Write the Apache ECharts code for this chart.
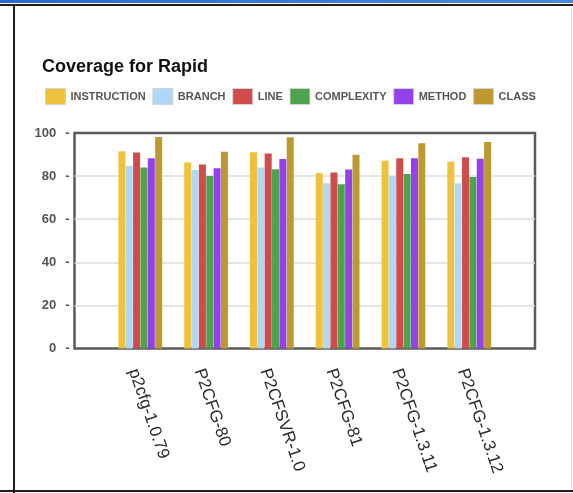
<!DOCTYPE html>
<html>
<head>
<meta charset="utf-8">
<script src="https://cdn.jsdelivr.net/npm/echarts@6/dist/echarts.min.js"></script>
<style>
  html, body { margin: 0; padding: 0; background: #fff; }
  #wrap { position: relative; width: 573px; height: 493px; overflow: hidden; }
  #chart { position: absolute; left: 0; top: 0; width: 573px; height: 493px; }
  .topbar { position: absolute; left: 0; top: 0; width: 573px; height: 3px; background: linear-gradient(to right, #2a68cf, #4a88d9); }
  .topline { position: absolute; left: 0; top: 4px; width: 573px; height: 2px; background: #1e1e1e; }
  .leftline { position: absolute; left: 13px; top: 4px; width: 2px; height: 489px; background: #1e1e1e; }
  .bottomline { position: absolute; left: 0; top: 490px; width: 573px; height: 2px; background: #1e1e1e; }
  .rightline { position: absolute; left: 571px; top: 6px; width: 1px; height: 484px; background: #e6e6e6; }
</style>
</head>
<body>
<div id="wrap">
  <div id="chart"></div>
  <div class="topbar"></div>
  <div class="topline"></div>
  <div class="leftline"></div>
  <div class="bottomline"></div>
  <div class="rightline"></div>
</div>
<script>
// ---- data ----
const titleText = 'Coverage for Rapid';
const categories = ['p2cfg-1.0.79', 'P2CFG-80', 'P2CFSVR-1.0', 'P2CFG-81', 'P2CFG-1.3.11', 'P2CFG-1.3.12'];
const seriesNames = ['INSTRUCTION', 'BRANCH', 'LINE', 'COMPLEXITY', 'METHOD', 'CLASS'];
const instruction = [91.5, 86.3, 91.1, 81.4, 87.1, 86.8];
const branch      = [84.8, 82.8, 84.0, 76.7, 80.1, 76.7];
const line        = [91.0, 85.4, 90.5, 81.7, 88.3, 88.7];
const complexity  = [84.0, 80.1, 83.2, 76.2, 81.0, 79.6];
const method      = [88.3, 83.7, 87.9, 83.1, 88.3, 88.0];
const klass       = [98.1, 91.3, 98.0, 89.9, 95.3, 95.8];
const yTicks = [0, 20, 40, 60, 80, 100];

// ---- styles ----
const colors = ['#EFC23E', '#B0D7F6', '#D04B4B', '#4CA34B', '#9341EB', '#BD9932'];
const allValues = [instruction, branch, line, complexity, method, klass];
const FONT = 'Liberation Sans, Arial, sans-serif';

// pad with empty slots at both ends to reproduce the spacing
const axisCats = [''].concat(categories, ['']);
const pad = arr => [null].concat(arr, [null]);

const chart = echarts.init(document.getElementById('chart'), null, { renderer: 'canvas' });

const series = seriesNames.map((name, i) => ({
  name: name,
  type: 'bar',
  data: pad(allValues[i]),
  barWidth: 7,
  barGap: '5%',
  itemStyle: { color: colors[i] },
  emphasis: { disabled: true },
  animation: false
}));

chart.setOption({
  animation: false,
  title: {
    text: titleText,
    left: 42,
    top: 58,
    padding: 0,
    textStyle: { fontFamily: FONT, fontSize: 18, fontWeight: 'bold', color: '#111' }
  },
  legend: {
    data: seriesNames,
    left: 45,
    top: 88,
    icon: 'rect',
    itemWidth: 20,
    itemHeight: 16,
    itemGap: 6.7,
    padding: 0,
    itemStyle: { borderColor: '#d4d4d4', borderWidth: 1 },
    textStyle: { fontFamily: FONT, fontSize: 11, fontWeight: 'bold', color: '#555' },
    selectedMode: false
  },
  color: colors,
  grid: {
    left: 74.5,
    right: 573 - 535,
    top: 133,
    bottom: 493 - 348.5,
    show: true,
    borderColor: '#5a5a5a',
    borderWidth: 2.5,
    backgroundColor: 'transparent',
    containLabel: false
  },
  xAxis: {
    type: 'category',
    data: axisCats,
    boundaryGap: false,
    axisLine: { show: false },
    axisTick: { show: false },
    splitLine: { show: false },
    axisLabel: {
      interval: 0,
      rotate: -71,
      margin: 15,
      align: 'left',
      verticalAlign: 'top',
      padding: [0, 0, 0, 3],
      fontFamily: FONT,
      fontSize: 17,
      color: '#2a2a2a'
    }
  },
  yAxis: {
    type: 'value',
    min: yTicks[0],
    max: yTicks[yTicks.length - 1],
    interval: yTicks[1] - yTicks[0],
    axisLine: { show: false },
    axisTick: { show: false },
    splitLine: { show: true, showMinLine: false, showMaxLine: false, lineStyle: { color: '#dcdcdc', width: 1.5 } },
    axisLabel: {
      margin: 5,
      formatter: v => '{v|' + v + '}{d|-}',
      rich: {
        v: { fontFamily: FONT, fontSize: 13, fontWeight: 'bold', color: '#555' },
        d: { fontFamily: FONT, fontSize: 13, fontWeight: 'bold', color: '#555', padding: [0, 0, 0, 9] }
      }
    }
  },
  series: series
});
</script>
</body>
</html>
